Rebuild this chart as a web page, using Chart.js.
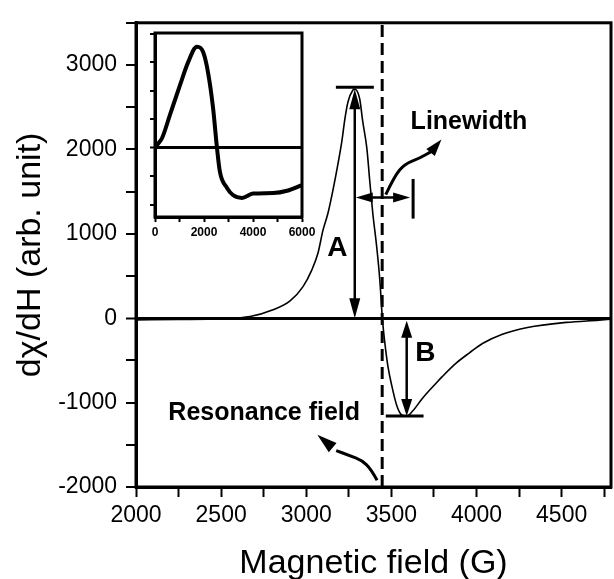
<!DOCTYPE html>
<html>
<head>
<meta charset="utf-8">
<script src="https://cdn.jsdelivr.net/npm/chart.js@4.4.1/dist/chart.umd.min.js"></script>
<style>
  body { margin: 0; background: #fff; }
  #wrap { position: relative; width: 614px; height: 579px; }
  #main { position: absolute; left: 0; top: 0; }
  #inset { position: absolute; left: 120px; top: 20px; }
</style>
</head>
<body>
<div id="wrap">
  <canvas id="main" width="614" height="579"></canvas>
  <canvas id="inset" width="200" height="230"></canvas>
</div>
<script>
// main spectrum
const fieldG = [2000, 2250, 2500, 2670, 2805, 2905, 2981, 3033, 3069, 3098, 3127, 3156, 3186, 3209, 3227, 3245, 3274, 3285,
  3314, 3332, 3356, 3373, 3391, 3414, 3432, 3447, 3461, 3479, 3502, 3531, 3561, 3590,
  3625, 3683, 3765, 3800, 3882, 3959, 4035, 4152, 4300, 4527, 4720, 4790];
const dChi = [-20, -15, -5, 20, 100, 205, 374, 573, 772, 1041, 1240, 1509, 1825, 2094, 2363, 2562, 2703, 2714,
  2597, 2328, 2012, 1626, 1240, 842, 456, 0, -281, -562, -796, -1030, -1147, -1160,
  -1100, -948, -765, -690, -530, -410, -300, -190, -110, -50, -23, -12];

// inset: wide sweep 0-6000 G (arb. units)
const insetField = [0, 80, 290, 610, 1020, 1350, 1710, 1960, 2160, 2370, 2530, 2650, 2940, 3180, 3550, 4000, 4820, 5390, 6000];
const insetSignal = [0, 0.1, 0.35, 1.16, 2.2, 3.0, 3.55, 3.37, 2.67, 1.4, 0, -0.84, -1.4, -1.65, -1.75, -1.6, -1.58, -1.5, -1.3];

const xTickLabels = [2000, 2500, 3000, 3500, 4000, 4500];
const yTickLabels = [-2000, -1000, 0, 1000, 2000, 3000];
const insetTickLabels = [0, 2000, 4000, 6000];

const resonanceField = 3446;   // dashed line
const linewidthEnd = 3610;     // end of the linewidth arrow

const FONT = 'Liberation Sans, Arial, sans-serif';
Chart.defaults.font.family = FONT;
Chart.defaults.color = '#000';

const iPeak = dChi.indexOf(Math.max(...dChi));
const iMin = dChi.indexOf(Math.min(...dChi));

// evenly spaced tick marks (labels are filtered by the callbacks)
const stepTicks = (from, to, step) => s => {
  s.ticks = [];
  for (let v = from; v <= to + 1e-9; v += step) s.ticks.push({value: v});
};

function head(ctx, tx, ty, ang, len, hw) {
  const bx = tx - len * Math.cos(ang), by = ty - len * Math.sin(ang);
  ctx.beginPath();
  ctx.moveTo(tx, ty);
  ctx.lineTo(bx + hw * Math.sin(ang), by - hw * Math.cos(ang));
  ctx.lineTo(bx - hw * Math.sin(ang), by + hw * Math.cos(ang));
  ctx.closePath();
  ctx.fill();
}

function smoothPath(ctx, pts) {
  ctx.beginPath();
  ctx.moveTo(pts[0][0], pts[0][1]);
  for (let i = 1; i < pts.length - 1; i++) {
    const mx = (pts[i][0] + pts[i + 1][0]) / 2, my = (pts[i][1] + pts[i + 1][1]) / 2;
    ctx.quadraticCurveTo(pts[i][0], pts[i][1], mx, my);
  }
  const l = pts[pts.length - 1];
  ctx.lineTo(l[0], l[1]);
  ctx.stroke();
}

const annotate = {
  id: 'annotate',
  afterDatasetsDraw(chart) {
    const {ctx, chartArea: a, scales: {x, y}} = chart;
    const px = v => x.getPixelForValue(v), py = v => y.getPixelForValue(v);
    ctx.save();
    ctx.strokeStyle = '#000';
    ctx.fillStyle = '#000';
    ctx.lineWidth = 3;
    ctx.strokeRect(a.left, a.top, a.right - a.left, a.bottom - a.top);

    // peak / minimum bars
    const xp = px(fieldG[iPeak]), yp = py(dChi[iPeak]);
    const xm = px(fieldG[iMin]), ym = py(dChi[iMin]);
    ctx.beginPath();
    ctx.moveTo(px(fieldG[iPeak] - 111), yp - 2); ctx.lineTo(px(fieldG[iPeak] + 112), yp - 2);
    ctx.moveTo(px(fieldG[iMin] - 123), ym); ctx.lineTo(px(fieldG[iMin] + 99), ym);
    ctx.stroke();

    // A arrow
    ctx.lineWidth = 2.5;
    const y0 = py(0);
    ctx.beginPath(); ctx.moveTo(xp, y0 - 12); ctx.lineTo(xp, yp + 12); ctx.stroke();
    head(ctx, xp, yp, -Math.PI / 2, 20, 5.5);
    head(ctx, xp, y0, Math.PI / 2, 20, 5.5);

    // B arrow
    const yb = py(-30);
    ctx.beginPath(); ctx.moveTo(xm, yb + 12); ctx.lineTo(xm, ym - 12); ctx.stroke();
    head(ctx, xm, yb, -Math.PI / 2, 17, 5.5);
    head(ctx, xm, ym, Math.PI / 2, 17, 5.5);

    // linewidth arrow
    const yl = py(1430), xe = px(linewidthEnd);
    ctx.beginPath(); ctx.moveTo(xp + 12, yl); ctx.lineTo(xe - 12, yl); ctx.stroke();
    head(ctx, xp + 1, yl, Math.PI, 17, 5);
    head(ctx, xe, yl, 0, 17, 5);
    ctx.lineWidth = 3;
    ctx.beginPath(); ctx.moveTo(xe + 3, py(1650)); ctx.lineTo(xe + 3, py(1180)); ctx.stroke();

    // curved pointers
    ctx.lineWidth = 3;
    const lwPts = [[3467, 1463], [3519, 1685], [3578, 1825], [3666, 1895], [3736, 1977]].map(p => [px(p[0]), py(p[1])]);
    smoothPath(ctx, lwPts);
    const lt = [px(3794), py(2118)], lb = lwPts[lwPts.length - 1];
    head(ctx, lt[0], lt[1], Math.atan2(lt[1] - lb[1], lt[0] - lb[0]), 17, 5.5);

    const rfPts = [[3416, -1919], [3381, -1790], [3328, -1685], [3252, -1626], [3176, -1568]].map(p => [px(p[0]), py(p[1])]);
    smoothPath(ctx, rfPts);
    const rt = [px(3065), py(-1381)], rb = rfPts[rfPts.length - 1];
    head(ctx, rt[0], rt[1], Math.atan2(rt[1] - rb[1], rt[0] - rb[0]), 20, 6);

    // labels
    ctx.textBaseline = 'middle';
    ctx.font = 'bold 25px ' + FONT;
    ctx.textAlign = 'left';
    ctx.fillText('Linewidth', px(3613), py(2328));
    ctx.fillText('Resonance field', px(2190), py(-1123));
    ctx.font = 'bold 28px ' + FONT;
    ctx.textAlign = 'center';
    ctx.fillText('A', px(3183), py(831));
    ctx.fillText('B', px(3699), py(-421));
    ctx.restore();
  }
};

const frame = {
  id: 'frame',
  afterDatasetsDraw(chart) {
    const {ctx, chartArea: a} = chart;
    ctx.save();
    ctx.strokeStyle = '#000';
    ctx.lineWidth = 3;
    ctx.strokeRect(a.left, a.top, a.right - a.left, a.bottom - a.top);
    ctx.restore();
  }
};

const zeroGrid = {
  drawOnChartArea: true,
  color: c => (c.tick && c.tick.value === 0) ? '#000' : 'rgba(0,0,0,0)',
  lineWidth: c => (c.tick && c.tick.value === 0) ? 3 : 0,
  tickColor: '#000',
  tickWidth: 2
};

new Chart(document.getElementById('main'), {
  type: 'line',
  data: {
    datasets: [
      {
        data: fieldG.map((g, i) => ({x: g, y: dChi[i]})),
        borderColor: '#000',
        borderWidth: 1.6,
        pointRadius: 0,
        cubicInterpolationMode: 'monotone'
      },
      {
        data: [{x: resonanceField, y: -2000}, {x: resonanceField, y: 3500}],
        borderColor: '#000',
        borderWidth: 3,
        borderDash: [12, 6],
        pointRadius: 0
      }
    ]
  },
  options: {
    responsive: false,
    animation: false,
    layout: {padding: {top: 16, right: 3, left: 0, bottom: 0}},
    plugins: {legend: {display: false}, tooltip: {enabled: false}},
    scales: {
      x: {
        type: 'linear',
        min: 2000,
        max: 4790,
        afterBuildTicks: stepTicks(2000, 4790, 250),
        afterFit: s => { s.height = 92; },
        border: {color: '#000', width: 3},
        grid: {drawOnChartArea: false, tickLength: 10, tickColor: '#000', tickWidth: 2},
        ticks: {
          autoSkip: false,
          maxRotation: 0,
          padding: 5,
          font: {size: 23},
          callback: v => xTickLabels.includes(v) ? String(v) : ''
        },
        title: {display: true, text: 'Magnetic field (G)', font: {size: 34, lineHeight: 0.9}, padding: {top: 0, bottom: 0}}
      },
      y: {
        min: -2000,
        max: 3500,
        afterBuildTicks: stepTicks(-2000, 3500, 500),
        afterFit: s => { s.width = 136; },
        border: {color: '#000', width: 3},
        grid: Object.assign({tickLength: 10}, zeroGrid),
        ticks: {
          autoSkip: false,
          padding: 9,
          font: {size: 23},
          callback: v => yTickLabels.includes(v) ? String(v) : ''
        },
        title: {display: true, text: 'dχ/dH (arb. unit)', font: {size: 34}, padding: {top: 10, bottom: 0}}
      }
    }
  },
  plugins: [annotate]
});

new Chart(document.getElementById('inset'), {
  type: 'line',
  data: {
    datasets: [{
      data: insetField.map((g, i) => ({x: g, y: insetSignal[i]})),
      borderColor: '#000',
      borderWidth: 4,
      pointRadius: 0,
      cubicInterpolationMode: 'monotone'
    }]
  },
  options: {
    responsive: false,
    animation: false,
    layout: {padding: {top: 13, right: 18, left: 0, bottom: 0}},
    plugins: {legend: {display: false}, tooltip: {enabled: false}},
    scales: {
      x: {
        type: 'linear',
        min: 0,
        max: 6000,
        afterBuildTicks: stepTicks(0, 6000, 1000),
        afterFit: s => { s.height = 33; },
        border: {color: '#000', width: 3},
        grid: {drawOnChartArea: false, tickLength: 5, tickColor: '#000', tickWidth: 2},
        ticks: {
          autoSkip: false,
          maxRotation: 0,
          padding: 3,
          font: {size: 12, weight: 'bold'},
          callback: v => insetTickLabels.includes(v) ? String(v) : ''
        }
      },
      y: {
        min: -2.42,
        max: 4.03,
        afterBuildTicks: stepTicks(-2, 4, 1),
        afterFit: s => { s.width = 35; },
        border: {color: '#000', width: 3},
        grid: Object.assign({tickLength: 5}, zeroGrid),
        ticks: {autoSkip: false, callback: () => ''}
      }
    }
  },
  plugins: [frame]
});
</script>
</body>
</html>
